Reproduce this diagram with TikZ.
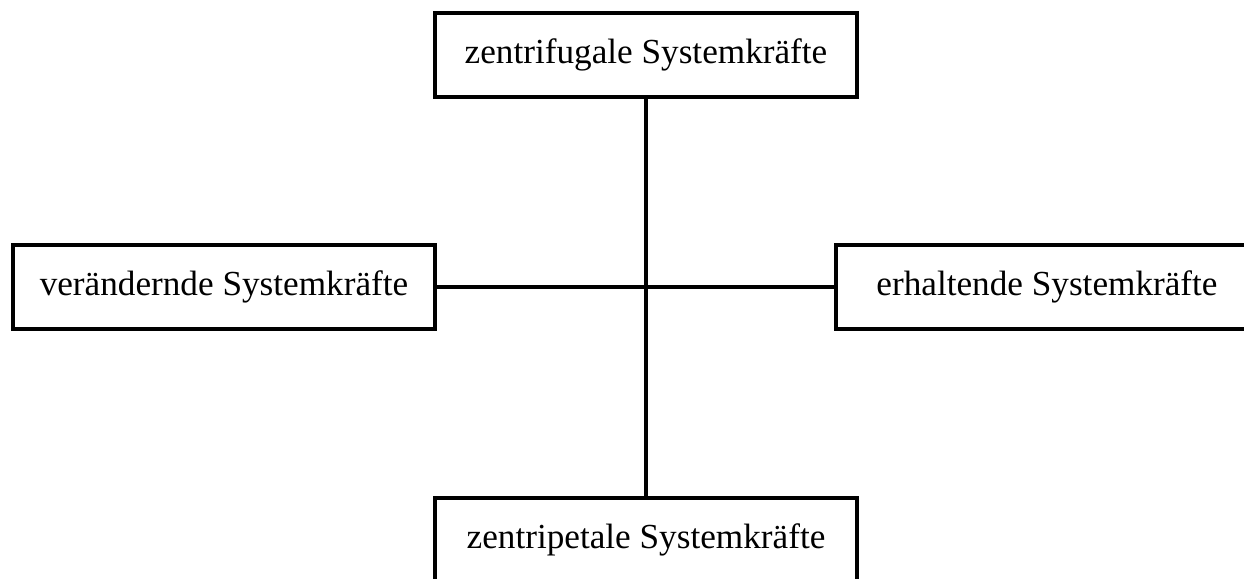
\documentclass[tikz,border=0pt]{standalone}
\usepackage{fontspec}
\setmainfont{Liberation Serif}
\begin{document}
\begin{tikzpicture}
[x=0.5pt,y=-0.5pt,
  boxdecorate/.style={shape=rectangle,draw,line width=1.7pt,minimum width=211pt,
    minimum height=42pt,inner sep=0pt,font=\fontsize{17.6}{20}\selectfont},%
  linedecorate/.style={-,line width=1.6pt}]
\useasboundingbox (0,0) rectangle (1244,579);
% boxes
\node (zf) at (646,55) [boxdecorate] {zentrifugale Systemkräfte};
\node (vs) at (224,287) [boxdecorate] {verändernde Systemkräfte};
\node (es) at (1047,287) [boxdecorate] {erhaltende Systemkräfte};
\node (zp) at (646,540) [boxdecorate] {zentripetale Systemkräfte};
% cross lines
\path
(zf) edge[linedecorate] node {} (zp)
(vs) edge[linedecorate] node {} (es);
\end{tikzpicture}
\end{document}
